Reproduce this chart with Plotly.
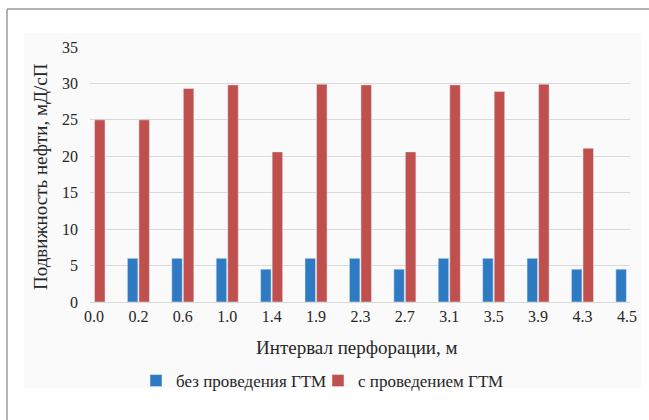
import plotly.graph_objects as go

categories = ["0.0", "0.2", "0.6", "1.0", "1.4", "1.9", "2.3", "2.7", "3.1", "3.5", "3.9", "4.3", "4.5"]
without_gtm = [0, 6, 6, 6, 4.5, 6, 6, 4.5, 6, 6, 6, 4.5, 4.5]
with_gtm = [25, 25, 29.3, 29.8, 20.6, 29.9, 29.8, 20.6, 29.8, 28.9, 29.9, 21.1, 0]
y_ticks = [0, 5, 10, 15, 20, 25, 30, 35]

series_names = ["без проведения ГТМ", "с проведением ГТМ"]
x_title = "Интервал перфорации, м"
y_title = "Подвижность нефти, мД/сП"

FONT = "Liberation Serif, Times New Roman, serif"
TXT = "#262626"
W, H = 649, 420
L, R, T, B = 90, 19, 47, 118
PW, PH = W - L - R, H - T - B


def px(x):
    return (x - L) / PW


def py(y):
    return (H - B - y) / PH


fig = go.Figure()
fig.add_trace(go.Bar(x=categories, y=without_gtm, name=series_names[0],
                     marker_color="#2E7BC4", legend="legend"))
fig.add_trace(go.Bar(x=categories, y=with_gtm, name=series_names[1],
                     marker_color="#C0504D", legend="legend2"))

legend_common = dict(orientation="h", yanchor="middle", xanchor="left",
                     font=dict(family=FONT, size=17, color=TXT),
                     itemwidth=30, bgcolor="rgba(0,0,0,0)")

fig.update_layout(
    width=W, height=H,
    margin=dict(l=L, r=R, t=T, b=B, autoexpand=False),
    paper_bgcolor="white", plot_bgcolor="white",
    barmode="group", bargap=0.48, bargroupgap=0.09,
    font=dict(family=FONT, size=16, color=TXT),
    showlegend=True,
    legend=dict(x=px(136), y=py(381), **legend_common),
    legend2=dict(x=px(318), y=py(381), **legend_common),
    xaxis=dict(type="category", range=[-0.09, 12.07], showgrid=False,
               showline=True, linecolor="#d9d9d9", linewidth=1,
               ticks="", tickfont=dict(family=FONT, size=16, color=TXT),
               automargin=False, fixedrange=True),
    yaxis=dict(range=[0, 35], tickvals=y_ticks, showgrid=True, gridcolor="#d9d9d9",
               gridwidth=1, zeroline=False, showline=False, ticks="",
               ticklabelstandoff=11,
               tickfont=dict(family=FONT, size=16, color=TXT),
               automargin=False, fixedrange=True),
    shapes=[
        dict(type="rect", xref="paper", yref="paper",
             x0=px(24), x1=px(641), y0=py(388), y1=py(33),
             fillcolor="#fafafa", line=dict(width=0), layer="below"),
        dict(type="line", xref="paper", yref="paper",
             x0=px(7), x1=px(W + 5), y0=py(9), y1=py(9),
             line=dict(color="#9a9a9a", width=1.5)),
        dict(type="line", xref="paper", yref="paper",
             x0=px(7), x1=px(7), y0=py(9), y1=py(H + 5),
             line=dict(color="#9a9a9a", width=1.5)),
    ],
    annotations=[
        dict(text=x_title, xref="paper", yref="paper",
             x=px(357), y=py(347),
             xanchor="center", yanchor="middle", showarrow=False,
             font=dict(family=FONT, size=19, color=TXT)),
        dict(text=y_title, xref="paper", yref="paper", textangle=-90,
             x=px(40), y=py(177),
             xanchor="center", yanchor="middle", showarrow=False,
             font=dict(family=FONT, size=19, color=TXT)),
    ],
)

fig.write_html("out.html", config={"displayModeBar": False},
               post_script="document.body.style.margin='0';document.body.style.overflow='hidden';")
